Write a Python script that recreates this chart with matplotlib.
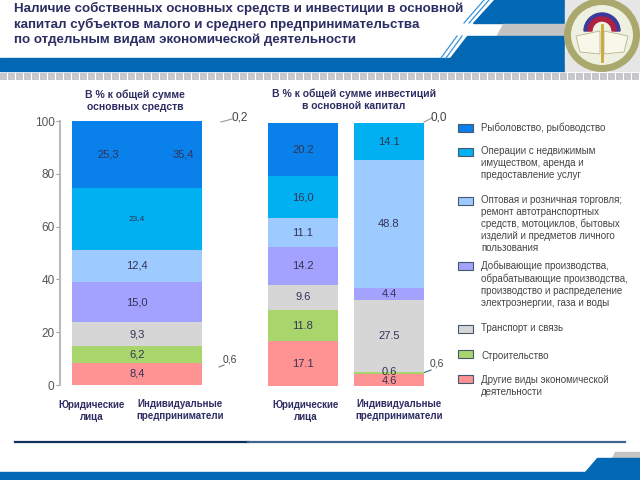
import numpy as np
import matplotlib
matplotlib.use('Agg')
import matplotlib.pyplot as plt
from matplotlib.patches import Polygon, Rectangle, Ellipse, Wedge

plt.rcParams['font.family'] = ['Liberation Sans', 'DejaVu Sans']

title_lines = ['Наличие собственных основных средств и инвестиции в основной',
               'капитал субъектов малого и среднего предпринимательства',
               'по отдельным видам экономической деятельности']

colors = ['#ff9393', '#a9d66c', '#d6d6d6', '#a3a3ff', '#9dcbff', '#00b0f0', '#0a80ea']

left_values = [8.4, 6.2, 9.3, 15.0, 12.4, 23.4, 25.3]
left_labels = ['8,4', '6,2', '9,3', '15,0', '12,4', '23,4', '25,3']
legal_values = [17.1, 11.8, 9.6, 14.2, 11.1, 16.0, 20.2]
legal_labels = ['17.1', '11.8', '9.6', '14.2', '11.1', '16,0', '20.2']
indiv_values = [4.6, 0.6, 27.5, 4.4, 48.8, 14.1]
indiv_colors = ['#ff9393', '#a9d66c', '#d6d6d6', '#a3a3ff', '#9dcbff', '#00b0f0']
indiv_labels = ['4.6', '0.6', '27.5', '4.4', '48.8', '14.1']
y_ticks = [0, 20, 40, 60, 80, 100]

legend_text = ['Рыболовство, рыбоводство',
               'Операции с недвижимым\nимуществом, аренда и\nпредоставление услуг',
               'Оптовая и розничная торговля;\nремонт автотранспортных\nсредств, мотоциклов, бытовых\nизделий и предметов личного\nпользования',
               'Добывающие производства,\nобрабатывающие производства,\nпроизводство и распределение\nэлектроэнергии, газа и воды',
               'Транспорт и связь',
               'Строительство',
               'Другие виды экономической\nдеятельности']
legend_colors = ['#0a80ea', '#00b0f0', '#9dcbff', '#a3a3ff', '#d6d6d6', '#a9d66c', '#ff9393']
legend_box_y = [128, 152, 201, 266, 329, 354, 379]
legend_text_y = [128, 163, 224, 284, 328, 356, 386]

fig = plt.figure(figsize=(6.4, 4.8), dpi=100)

bg = fig.add_axes([0, 0, 1, 1])
bg.set_xlim(0, 640)
bg.set_ylim(480, 0)
bg.axis('off')

blue = '#0368b4'
stripe = '#3d93d6'
bg.add_patch(Polygon([[494, 0], [565, 0], [565, 23], [473, 23]], color=blue))
for dx in [0, 5]:
    bg.plot([484 + dx, 464 + dx], [0, 23], color=stripe, lw=0.9)
bg.add_patch(Polygon([[503, 24], [565, 24], [565, 35], [497, 35]], color='#c4c4c4'))
bg.add_patch(Polygon([[467, 36], [565, 36], [565, 58], [450, 58]], color=blue))
for dx in [0, 5]:
    bg.plot([457 + dx, 441 + dx], [36, 58], color=stripe, lw=0.9)
bg.add_patch(Rectangle((0, 58), 565, 13, color=blue))
for i in range(0, 640, 8):
    bg.add_patch(Rectangle((i, 73), 7, 7, fc='#c6c8cc', lw=0))

# emblem
bg.add_patch(Rectangle((565, 0), 75, 71, color='#e6e6e6'))
bg.add_patch(Ellipse((602, 35), 69, 67, fc='#eef0e0', ec='#aaa86c', lw=5))
bg.add_patch(Wedge((602, 31), 18, 180, 360, width=4, color='#3c3a9a'))
bg.add_patch(Wedge((602, 31), 14, 180, 360, width=4, color='#b02040'))
bg.add_patch(Polygon([[576, 36], [600, 31], [600, 54], [580, 52]], fc='#f7f7ea', ec='#b5b58c', lw=0.6))
bg.add_patch(Polygon([[628, 36], [604, 31], [604, 54], [624, 52]], fc='#f7f7ea', ec='#b5b58c', lw=0.6))
bg.plot([602, 602], [25, 61], color='#c9a83a', lw=2)

for i, line in enumerate(title_lines):
    bg.text(14, 8 + i * 16, line, fontsize=9.6, fontweight='bold', color='#2e2d63', va='center')

bg.text(135, 101, 'В % к общей сумме\nосновных средств', fontsize=7.5, fontweight='bold',
        color='#2e2d63', ha='center', va='center', linespacing=1.25)
bg.text(354, 99.5, 'В % к общей сумме инвестиций\nв основной капитал', fontsize=7.5, fontweight='bold',
        color='#2e2d63', ha='center', va='center', linespacing=1.25)

# left chart, one wide bar
ax1 = fig.add_axes([60 / 640, 1 - 385 / 480, 150 / 640, 264 / 480])
bottom = 0
total = sum(left_values)
for v, c, lab in zip(left_values, colors, left_labels):
    h = v * 100 / total
    ax1.bar(0, h, 130, bottom=bottom, color=c, align='edge')
    fs = 6 if lab == '23,4' else 8
    xpos = 65 if lab != '25,3' else 36
    ax1.text(xpos, bottom + h / 2, lab, ha='center', va='center', fontsize=fs, color='#333355')
    bottom += h
ax1.text(111, 100 - 25.3 * 100 / total / 2, '35,4', ha='center', va='center', fontsize=8, color='#333355')
ax1.set_xlim(-12, 138)
ax1.set_ylim(0, 100)
ax1.set_yticks(y_ticks)
ax1.tick_params(axis='y', labelsize=8.5, length=3, color='#999999', labelcolor='#555555', pad=1)
ax1.set_xticks([])
for s in ['top', 'right', 'bottom']:
    ax1.spines[s].set_visible(False)
ax1.spines['left'].set_color('#bbbbbb')
ax1.spines['left'].set_linewidth(1.5)
ax1.patch.set_alpha(0)

# middle chart, two bars
ax2 = fig.add_axes([260 / 640, 1 - 386 / 480, 172 / 640, 263 / 480])
bottom = 0
for v, c, lab in zip(legal_values, colors, legal_labels):
    ax2.bar(0, v, 70, bottom=bottom, color=c)
    ax2.text(0, bottom + v / 2, lab, ha='center', va='center', fontsize=8, color='#333355')
    bottom += v
bottom = 0
for v, c, lab in zip(indiv_values, indiv_colors, indiv_labels):
    ax2.bar(86, v, 70, bottom=bottom, color=c)
    ypos = bottom + v / 2
    if lab == '0.6':
        ypos = bottom + v / 2 + 0.6
    if lab == '4.6':
        ypos = 2.0
    ax2.text(86, ypos, lab, ha='center', va='center', fontsize=8, color='#333355')
    bottom += v
ax2.set_xlim(-43, 129)
ax2.set_ylim(0, 100)
ax2.axis('off')

# small callouts
bg.text(240, 117, '0,2', fontsize=8.5, color='#444444', ha='center', va='center')
bg.plot([221, 232], [122, 119], color='#999999', lw=0.8)
bg.text(230, 359, '0,6', fontsize=7.5, color='#444444', ha='center', va='center')
bg.plot([219, 224], [367, 365], color='#777777', lw=0.8)
bg.text(439, 117, '0,0', fontsize=8.5, color='#444444', ha='center', va='center')
bg.plot([424, 432], [122, 118], color='#999999', lw=0.8)
bg.text(437, 364, '0,6', fontsize=7.5, color='#444444', ha='center', va='center')
bg.plot([423, 431], [373, 370], color='#44658a', lw=0.8)

# category labels
for x, y, lab in [(92, 411.5, 'Юридические\nлица'), (180, 410, 'Индивидуальные\nпредприниматели'),
                  (306, 411.5, 'Юридические\nлица'), (399, 410, 'Индивидуальные\nпредприниматели')]:
    bg.text(x, y, lab, fontsize=7, fontweight='bold', color='#2e2d63', ha='center', va='center', linespacing=1.25)

# legend
for by, ty, c, t in zip(legend_box_y, legend_text_y, legend_colors, legend_text):
    bg.add_patch(Rectangle((458, by - 4), 15, 8, fc=c, ec='#44586f', lw=0.8))
    bg.text(481, ty, t, fontsize=7, color='#444444', va='center', linespacing=1.25)

# footer
bg.plot([15, 248], [442, 442], color='#12305f', lw=1.6)
bg.plot([248, 625], [442, 442], color='#3f648f', lw=1.6)
bg.add_patch(Polygon([[615, 452], [640, 452], [640, 458], [612, 458]], color='#c4c4c4'))
bg.add_patch(Polygon([[597, 458], [640, 458], [640, 472], [585, 472]], color=blue))
bg.add_patch(Rectangle((0, 472), 640, 8, color=blue))

fig.savefig('out.png', dpi=100)
